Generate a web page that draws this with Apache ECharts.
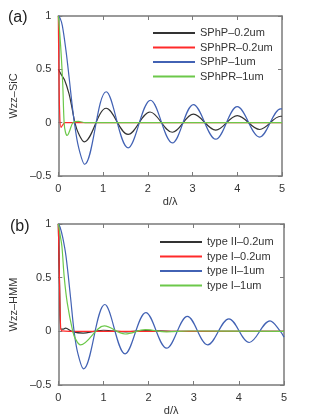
<!DOCTYPE html>
<html><head><meta charset="utf-8">
<script src="https://cdn.jsdelivr.net/npm/echarts@6/dist/echarts.min.js"></script>
<style>html,body{margin:0;padding:0;background:#fff}#c{width:316px;height:418px}</style>
</head><body><div id="c"></div>
<script>
// ---- data ----
const topNames = ['SPhP\u20130.2um', 'SPhPR\u20130.2um', 'SPhP\u20131um', 'SPhPR\u20131um'];
const botNames = ['type II\u20130.2um', 'type I\u20130.2um', 'type II\u20131um', 'type I\u20131um'];
const xTicks = [0, 1, 2, 3, 4, 5];
const yTicks = [-0.5, 0, 0.5, 1];

const sphp02 = [[0,0.5],[0.06,0.455],[0.14,0.40],[0.24,0.27],[0.31,0.13],[0.37,0],[0.45,-0.10],[0.58,-0.18],[1.07,0.135],[1.56,-0.11],[2.05,0.10],[2.55,-0.09],[3.02,0.08],[3.52,-0.07],[4.0,0.066],[4.5,-0.064],[4.97,0.06],[5,0.06]];
const sphpr02 = [[0,1],[0.01,0.6],[0.03,0.1],[0.06,-0.045],[0.1,-0.02],[0.15,0],[0.5,0],[5,0]];
const sphp1 = [[0,1],[0.04,0.98],[0.09,0.91],[0.17,0.68],[0.24,0.43],[0.3,0.2],[0.36,0],[0.45,-0.225],[0.59,-0.39],[1.07,0.29],[1.56,-0.236],[2.06,0.21],[2.55,-0.19],[3.02,0.17],[3.52,-0.155],[4.0,0.15],[4.5,-0.135],[4.97,0.13],[5,0.13]];
const sphpr1 = [[0,1],[0.03,0.85],[0.07,0.6],[0.1,0.35],[0.13,0],[0.16,-0.09],[0.2,-0.12],[0.25,-0.08],[0.33,0],[0.45,0.012],[0.6,0],[5,0]];

const t2_02 = [[0,1],[0.03,0.4],[0.06,0.02],[0.1,0.02],[0.16,0.03],[0.3,0.0],[0.55,-0.017],[0.8,0],[1.0,0.01],[1.5,-0.005],[1.95,0.008],[2.5,0],[5,0]];
const t1_02 = [[0,1],[0.02,0.6],[0.05,0.05],[0.08,0.005],[0.5,0],[5,0]];
const t2_1 = [[0,1],[0.04,0.97],[0.1,0.87],[0.17,0.7],[0.27,0.32],[0.35,0],[0.43,-0.2],[0.56,-0.35],[1.03,0.25],[1.48,-0.21],[1.94,0.175],[2.4,-0.157],[2.86,0.14],[3.31,-0.126],[3.78,0.117],[4.23,-0.104],[4.69,0.098],[4.92,0],[5,-0.054]];
const t1_1 = [[0,1],[0.04,0.9],[0.08,0.79],[0.13,0.51],[0.2,0.26],[0.32,0],[0.38,-0.07],[0.49,-0.126],[1.02,0.05],[1.48,-0.025],[1.93,0.015],[2.4,-0.005],[2.9,0.003],[5,0]];

const colors = ['#333333', '#ff2a2a', '#4262b4', '#6cc84a'];

// ---- chart ----
const FONT = 'Liberation Sans';
const axisCol = '#7a7a7a';
function fmt(v){ return String(v).replace('-', '\u2013'); }

function xAx(gi, bottom){
  return {
    type:'value', gridIndex: gi, min: xTicks[0], max: xTicks[xTicks.length-1], interval: 1,
    position: bottom ? 'bottom' : 'top',
    name: bottom ? 'd/\u03bb' : '', nameLocation:'middle', nameGap: 20,
    nameTextStyle:{fontFamily:FONT, fontSize:11, color:'#333'},
    axisLine:{show:true, onZero:false, lineStyle:{color:axisCol, width:1.5}},
    axisTick:{show:true, inside:true, length:4, lineStyle:{color:axisCol}},
    axisLabel:{show: bottom, fontFamily:FONT, fontSize:11, color:'#333', margin:7},
    splitLine:{show:false}
  };
}
function yAx(gi, left, name){
  return {
    type:'value', gridIndex: gi, min: yTicks[0], max: yTicks[yTicks.length-1], interval: 0.5,
    position: left ? 'left' : 'right',
    name: left ? name : '', nameLocation:'middle', nameGap: 31,
    nameTextStyle:{fontFamily:FONT, fontSize:11, color:'#333'},
    axisLine:{show:true, onZero:false, lineStyle:{color:axisCol, width:1.5}},
    axisTick:{show:true, inside:true, length:4, lineStyle:{color:axisCol}},
    axisLabel:{show: left, fontFamily:FONT, fontSize:11, color:'#333', margin:7, formatter: fmt},
    splitLine:{show:false}
  };
}
function ser(name, data, i, xi, yi){
  return {
    name, type:'line', data, xAxisIndex:xi, yAxisIndex:yi, smooth:0.36,
    symbol:'none', lineStyle:{width:1.2, color:colors[i]}, itemStyle:{color:colors[i]},
    animation:false
  };
}

const chart = echarts.init(document.getElementById('c'), null, {renderer:'canvas'});
chart.setOption({
  animation:false,
  backgroundColor:'#fff',
  title:[
    {text:'(a)', left:3, top:5, textStyle:{fontFamily:FONT, fontSize:16, fontWeight:'normal', color:'#222'}},
    {text:'(b)', left:5, top:214, textStyle:{fontFamily:FONT, fontSize:16, fontWeight:'normal', color:'#222'}}
  ],
  grid:[
    {left:46, top:16, width:236, height:160},
    {left:47, top:224, width:237, height:161}
  ],
  xAxis:[xAx(0,true), xAx(0,false), xAx(1,true), xAx(1,false)],
  yAxis:[yAx(0,true,'Wzz\u2013SiC'), yAx(0,false), yAx(1,true,'Wzz\u2013HMM'), yAx(1,false)],
  legend:[
    {data: topNames, orient:'vertical', left:153, top:26.5, padding:0, itemWidth:42, itemHeight:2, itemGap:1.5, icon:'rect',
     textStyle:{fontFamily:FONT, fontSize:11, color:'#333', lineHeight:13}, selectedMode:false},
    {data: botNames, orient:'vertical', left:160, top:235.5, padding:0, itemWidth:42, itemHeight:2, itemGap:1.5, icon:'rect',
     textStyle:{fontFamily:FONT, fontSize:11, color:'#333', lineHeight:13}, selectedMode:false}
  ],
  series:[
    ser(topNames[0], sphp02, 0, 0, 0),
    ser(topNames[1], sphpr02, 1, 0, 0),
    ser(topNames[2], sphp1, 2, 0, 0),
    ser(topNames[3], sphpr1, 3, 0, 0),
    ser(botNames[0], t2_02, 0, 2, 2),
    ser(botNames[1], t1_02, 1, 2, 2),
    ser(botNames[2], t2_1, 2, 2, 2),
    ser(botNames[3], t1_1, 3, 2, 2)
  ]
});
</script>
</body></html>
